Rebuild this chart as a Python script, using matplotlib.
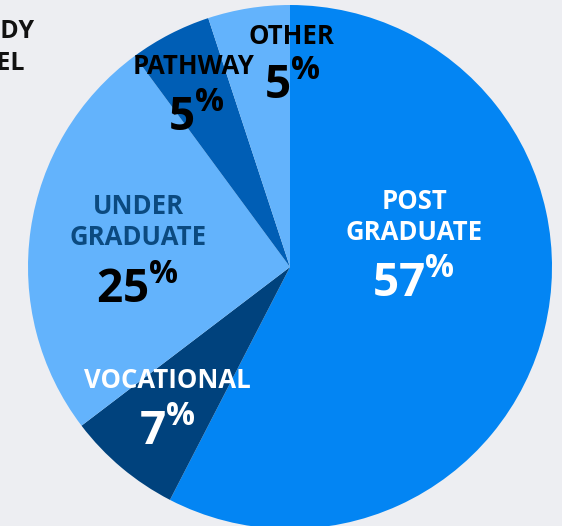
import matplotlib.pyplot as plt

plt.rcParams['font.family'] = ['Open Sans', 'DejaVu Sans']
plt.rcParams['mathtext.fontset'] = 'custom'
plt.rcParams['mathtext.rm'] = 'Open Sans:bold'
plt.rcParams['mathtext.it'] = 'Open Sans:bold'
plt.rcParams['mathtext.bf'] = 'Open Sans:bold'

# study level shares (%), clockwise from the top
levels = ['POST\nGRADUATE', 'VOCATIONAL', 'UNDER\nGRADUATE', 'PATHWAY', 'OTHER']
shares = [57, 7, 25, 5, 5]
colors = ['#0385F3', '#00427D', '#63B3FC', '#005EB5', '#63B3FC']
name_colors = ['white', 'white', '#0B4A80', 'black', 'black']
pct_colors = ['white', 'white', 'black', 'black', 'black']

BG = '#EDEEF2'
W, H = 562, 526
CX, CY, R = 290, 267, 262

# label centres in pixels (name, percent)
name_pos = [(414, 217), (167, 381), (138, 222), (194, 66), (291, 37)]
pct_pos = [(413, 284), (167, 432), (137, 289), (196, 117), (292, 85)]


def to_data(px, py):
    return (px - CX) / R, (CY - py) / R


fig = plt.figure(figsize=(W / 100, H / 100), dpi=100, facecolor=BG)
ax = fig.add_axes([(CX - R) / W, (H - CY - R) / H, 2 * R / W, 2 * R / H])
ax.set_facecolor(BG)

ax.pie(shares, colors=colors, startangle=90, counterclock=False, radius=1,
       wedgeprops=dict(linewidth=0))
ax.set_xlim(-1, 1)
ax.set_ylim(-1, 1)
ax.set_aspect('equal')
ax.axis('off')

for name, share, nc, pc, npos, ppos in zip(levels, shares, name_colors,
                                           pct_colors, name_pos, pct_pos):
    x, y = to_data(*npos)
    ax.text(x, y, name, ha='center', va='center', fontsize=18.5,
            fontweight='bold', color=nc, linespacing=1.15)
    x, y = to_data(*ppos)
    ax.text(x, y, str(share) + r'$^{\%}$', ha='center', va='center',
            fontsize=33, fontweight='bold', color=pc)

# title, cut off at the left edge like the source image
fig.text(35 / W, 1 - 31 / H, 'STUDY', ha='right', va='center',
         fontsize=18, fontweight='bold', color='#111111')
fig.text(25 / W, 1 - 64 / H, 'LEVEL', ha='right', va='center',
         fontsize=18, fontweight='bold', color='#111111')

fig.savefig('out.png', dpi=100, facecolor=BG)
